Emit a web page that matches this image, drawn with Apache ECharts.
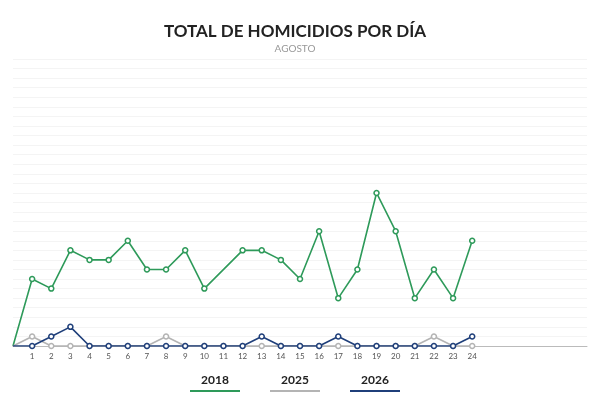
<!DOCTYPE html><html><head><meta charset="utf-8"><script src="https://cdn.jsdelivr.net/npm/echarts@6/dist/echarts.min.js"></script></head><body style="margin:0;background:#fff"><div id="c" style="width:590px;height:410px"></div><script>
const categories=['','1','2','3','4','5','6','7','8','9','10','11','12','13','14','15','16','17','18','19','20','21','22','23','24','','','','','',''];
const s2018=[0,7,6,10,9,9,11,8,8,10,6,null,10,10,9,7,12,5,8,16,12,5,8,5,11];
const s2025=[0,1,0,0,0,0,0,0,1,0,0,0,0,0,0,0,0,0,0,0,0,0,1,0,0];
const s2026=[0,0,1,2,0,0,0,0,0,0,0,0,0,1,0,0,0,1,0,0,0,0,0,0,1];
const names=['2018','2025','2026'];
const colors=['#2e9a5a','#b4b4b4','#1f3f7a'];
const ser=[s2018,s2025,s2026].map((d,i)=>({name:names[i],type:'line',data:d.map((v,k)=>k===0?{value:v,symbol:'none'}:v),connectNulls:true,symbol:'circle',symbolSize:5,showSymbol:true,
 itemStyle:{color:'#fff',borderColor:colors[i],borderWidth:1.5},lineStyle:{color:colors[i],width:1.6},z:i===2?4:(i===1?3:2)}));
const c=echarts.init(document.getElementById('c'));
c.setOption({animation:false,
title:{text:'TOTAL DE HOMICIDIOS POR DÍA',subtext:'AGOSTO',left:'center',top:18,itemGap:4,textStyle:{fontFamily:'Lato',fontWeight:'bold',fontSize:17,color:'#222'},subtextStyle:{fontFamily:'Lato',fontSize:10,color:'#999'}},
grid:{left:13,right:2,top:59,bottom:64},
xAxis:{type:'category',data:categories,boundaryGap:false,axisTick:{show:false},axisLine:{lineStyle:{color:'#bbb'}},axisLabel:{fontSize:8,color:'#555',fontFamily:'Lato',margin:6,interval:0}},
yAxis:{type:'value',min:0,max:30,interval:1,axisLabel:{show:false},axisLine:{show:false},axisTick:{show:false},splitLine:{lineStyle:{color:'#f4f4f4'}}},
series:ser,
graphic:names.map((n,i)=>({type:'group',left:[190,270,350][i],top:374,children:[
 {type:'text',x:25,y:0,style:{text:n,fontFamily:'Lato',fontWeight:'bold',fontSize:12,fill:'#222',textAlign:'center'}},
 {type:'rect',shape:{x:0,y:16,width:50,height:2},style:{fill:colors[i]}}]}))
});
</script></body></html>
